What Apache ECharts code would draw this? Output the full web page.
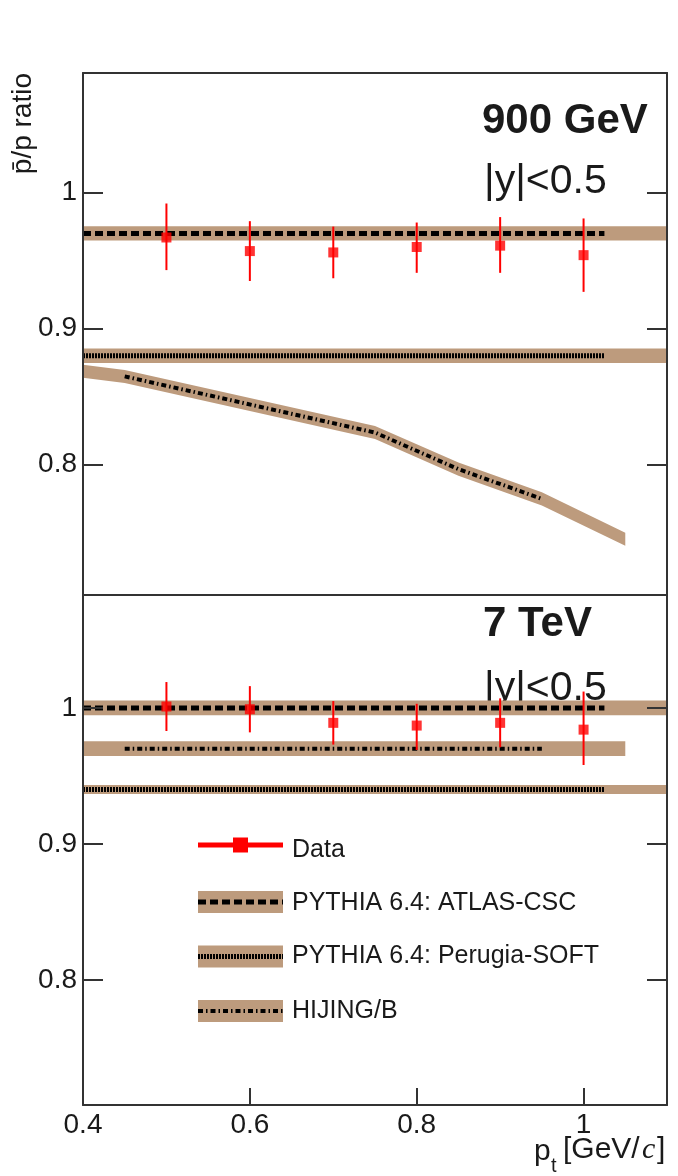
<!DOCTYPE html>
<html><head><meta charset="utf-8">
<script src="https://cdn.jsdelivr.net/npm/echarts@6/dist/echarts.min.js"></script>
<style>html,body{margin:0;padding:0;background:#fff}#c{width:678px;height:1176px}</style>
</head><body><div id="c"></div>
<script>
// ---------- data ----------
const xTicks = [0.4, 0.6, 0.8, 1.0];
const xTickLabels = ['0.4', '0.6', '0.8', '1'];
const yTicks = [0.8, 0.9, 1.0];
const yTickLabels = ['0.8', '0.9', '1'];

const ptX = [0.5, 0.6, 0.7, 0.8, 0.9, 1.0];
// 900 GeV data
const data900 = [0.967, 0.957, 0.956, 0.960, 0.961, 0.954];
const errLo900 = [0.943, 0.935, 0.937, 0.941, 0.941, 0.927];
const errHi900 = [0.992, 0.979, 0.975, 0.978, 0.982, 0.981];
// 7 TeV data
const data7 = [1.001, 0.999, 0.989, 0.987, 0.989, 0.984];
const errLo7 = [0.983, 0.982, 0.973, 0.969, 0.971, 0.958];
const errHi7 = [1.019, 1.016, 1.005, 1.003, 1.007, 1.012];

// models, 900 GeV
const atlas900BandX = [0.4, 1.1], atlas900BandY = [0.970, 0.970], atlas900Half = 0.0053;
const atlas900LineX = [0.4, 1.025], atlas900LineY = [0.970, 0.970];
const perugia900BandX = [0.4, 1.1], perugia900BandY = [0.880, 0.880], perugia900Half = 0.0053;
const perugia900LineX = [0.4, 1.025], perugia900LineY = [0.880, 0.880];
const hijing900BandX = [0.4, 0.45, 0.75, 0.85, 0.95, 1.05];
const hijing900BandY = [0.8686, 0.8648, 0.8235, 0.7966, 0.7747, 0.745], hijing900Half = 0.0048;
const hijing900LineX = [0.45, 0.75, 0.85, 0.95];
const hijing900LineY = [0.8648, 0.8235, 0.7966, 0.7747];

// models, 7 TeV
const atlas7BandX = [0.4, 1.1], atlas7BandY = [1.000, 1.000], atlas7Half = 0.0054;
const atlas7LineX = [0.4, 1.025], atlas7LineY = [1.000, 1.000];
const hijing7BandX = [0.4, 1.05], hijing7BandY = [0.970, 0.970], hijing7Half = 0.0054;
const hijing7LineX = [0.45, 0.95], hijing7LineY = [0.970, 0.970];
const perugia7BandX = [0.4, 1.1], perugia7BandY = [0.940, 0.940], perugia7Half = 0.0033;
const perugia7LineX = [0.4, 1.025], perugia7LineY = [0.940, 0.940];

const legendNames = ['Data', 'PYTHIA 6.4: ATLAS-CSC', 'PYTHIA 6.4: Perugia-SOFT', 'HIJING/B'];

// ---------- style ----------
const FONT = '"Liberation Sans", Arial, Helvetica, sans-serif';
const TAN = '#bd9b7d';
const INK = '#1a1a1a';
const FRAME = '#333333';
const RED = '#ff0000';
const DASH_ATLAS = [8, 4];
const DASH_PERUGIA = [2, 1];
const DASH_HIJING = [5, 3, 1.5, 3];

const chart = echarts.init(document.getElementById('c'), null, {renderer: 'canvas'});

function yAxes(g, min, max) {
  const common = {
    type: 'value', gridIndex: g, min, max, z: 10,
    axisLine: {show: true, onZero: false, lineStyle: {color: FRAME, width: 2}},
    axisTick: {show: true, inside: true, length: 20, customValues: yTicks, lineStyle: {color: FRAME, width: 2}},
    splitLine: {show: false}
  };
  return [
    Object.assign({}, common, {position: 'left',
      axisLabel: {show: true, customValues: yTicks, margin: 6, fontSize: 28, fontFamily: FONT, color: INK,
        formatter: v => { let k = 0; yTicks.forEach((t, i) => { if (Math.abs(t - v) < 1e-6) k = i; }); return yTickLabels[k]; }}}),
    Object.assign({}, common, {position: 'right', axisLabel: {show: false}})
  ];
}
function xAxes(g, showLabels) {
  const base = {type: 'value', gridIndex: g, min: 0.4, max: 1.1, z: 10, splitLine: {show: false},
    axisLine: {show: true, onZero: false, lineStyle: {color: FRAME, width: 2}}};
  return [
    Object.assign({}, base, {position: 'bottom',
      axisTick: {show: showLabels, inside: true, length: 17, customValues: xTicks, lineStyle: {color: FRAME, width: 2}},
      axisLabel: {show: showLabels, customValues: xTicks, margin: 6, fontSize: 28, fontFamily: FONT, color: INK,
        formatter: v => { let k = 0; xTicks.forEach((t, i) => { if (Math.abs(t - v) < 1e-6) k = i; }); return xTickLabels[k]; }}}),
    Object.assign({}, base, {position: 'top', axisTick: {show: false}, axisLabel: {show: false}})
  ];
}

function band(g, xs, ys, half) {
  return {type: 'custom', xAxisIndex: 2 * g, yAxisIndex: 2 * g, z: 1, silent: true,
    data: xs.map((x, i) => [x, ys[i] - half, ys[i] + half]),
    renderItem: (params, api) => {
      if (params.dataIndex !== 0) return null;
      const pts = [];
      for (let i = 0; i < xs.length; i++) pts.push(api.coord([xs[i], ys[i] + half]));
      for (let i = xs.length - 1; i >= 0; i--) pts.push(api.coord([xs[i], ys[i] - half]));
      return {type: 'polygon', shape: {points: pts}, style: {fill: TAN}};
    }};
}
function dline(g, xs, ys, dash, w) {
  return {type: 'line', xAxisIndex: 2 * g, yAxisIndex: 2 * g, z: 3, silent: true, symbol: 'none',
    data: xs.map((x, i) => [x, ys[i]]),
    lineStyle: {color: '#000', width: w, type: dash, cap: 'butt'}};
}
function errBars(g, ys, lo, hi) {
  return {type: 'custom', xAxisIndex: 2 * g, yAxisIndex: 2 * g, z: 4, silent: true,
    data: ptX.map((x, i) => [x, lo[i], hi[i]]),
    renderItem: (params, api) => {
      const x = api.value(0);
      const a = api.coord([x, api.value(1)]);
      const b = api.coord([x, api.value(2)]);
      return {type: 'line', shape: {x1: a[0], y1: a[1], x2: b[0], y2: b[1]}, style: {stroke: RED, lineWidth: 2}};
    }};
}
function points(g, ys) {
  return {type: 'scatter', xAxisIndex: 2 * g, yAxisIndex: 2 * g, z: 5, silent: true,
    symbol: 'rect', symbolSize: 10, itemStyle: {color: RED},
    data: ptX.map((x, i) => [x, ys[i]])};
}

// legend graphics
const legRows = [845, 902, 956.5, 1011];
const legDash = [null, DASH_ATLAS, DASH_PERUGIA, DASH_HIJING];
const legText = [850, 903, 956, 1011];
const graphics = [];
legRows.forEach((cy, i) => {
  if (i === 0) {
    graphics.push({type: 'line', shape: {x1: 198, y1: cy, x2: 283, y2: cy}, style: {stroke: RED, lineWidth: 5}});
    graphics.push({type: 'rect', shape: {x: 233, y: cy - 7.5, width: 15, height: 15}, style: {fill: RED}});
  } else {
    graphics.push({type: 'rect', shape: {x: 198, y: cy - 11, width: 85, height: 22}, style: {fill: TAN}});
    graphics.push({type: 'line', shape: {x1: 198, y1: cy, x2: 283, y2: cy},
      style: {stroke: '#000', lineWidth: i === 3 ? 4 : 5, lineDash: legDash[i]}});
  }
  graphics.push({type: 'text', x: 292, y: legText[i],
    style: {text: legendNames[i], fontSize: 25, fontFamily: FONT, fill: INK, align: 'left', verticalAlign: 'middle'}});
});
// panel labels
graphics.push({type: 'text', x: 482, y: 121, style: {text: '900 GeV', fontSize: 42, fontWeight: 'bold', fontFamily: FONT, fill: INK, verticalAlign: 'middle'}});
graphics.push({type: 'text', x: 484, y: 182, style: {text: '|y|<0.5', fontSize: 41, fontFamily: FONT, fill: INK, verticalAlign: 'middle'}});
graphics.push({type: 'text', x: 483, y: 624, style: {text: '7 TeV', fontSize: 42, fontWeight: 'bold', fontFamily: FONT, fill: INK, verticalAlign: 'middle'}});
graphics.push({type: 'text', x: 484, y: 689, style: {text: '|y|<0.5', fontSize: 41, fontFamily: FONT, fill: INK, verticalAlign: 'middle'}});
// axis titles
graphics.push({type: 'text', x: 23, y: 73, rotation: Math.PI / 2,
  style: {text: 'p\u0304/p ratio', fontSize: 28, fontFamily: FONT, fill: INK, align: 'right', verticalAlign: 'middle'}});
graphics.push({type: 'text', x: 534, y: 1152, style: {text: 'p', fontSize: 30, fontFamily: FONT, fill: INK, verticalAlign: 'middle'}});
graphics.push({type: 'text', x: 551, y: 1166, style: {text: 't', fontSize: 20, fontFamily: FONT, fill: INK, verticalAlign: 'middle'}});
graphics.push({type: 'text', x: 563, y: 1150, style: {text: '[GeV/', fontSize: 30, fontFamily: FONT, fill: INK, verticalAlign: 'middle'}});
graphics.push({type: 'text', x: 642, y: 1150, style: {text: 'c', fontSize: 30, fontStyle: 'italic', fontFamily: '"Liberation Serif", serif', fill: INK, verticalAlign: 'middle'}});
graphics.push({type: 'text', x: 657, y: 1150, style: {text: ']', fontSize: 30, fontFamily: FONT, fill: INK, verticalAlign: 'middle'}});

const option = {
  animation: false,
  backgroundColor: '#fff',
  grid: [
    {left: 83, top: 73, width: 584, height: 522, containLabel: false},
    {left: 83, top: 595, width: 584, height: 510, containLabel: false}
  ],
  xAxis: [].concat(xAxes(0, false), xAxes(1, true)),
  yAxis: [].concat(yAxes(0, 0.704, 1.088), yAxes(1, 0.708, 1.083)),
  series: [
    band(0, atlas900BandX, atlas900BandY, atlas900Half),
    band(0, perugia900BandX, perugia900BandY, perugia900Half),
    band(0, hijing900BandX, hijing900BandY, hijing900Half),
    dline(0, atlas900LineX, atlas900LineY, DASH_ATLAS, 5),
    dline(0, perugia900LineX, perugia900LineY, DASH_PERUGIA, 5),
    dline(0, hijing900LineX, hijing900LineY, DASH_HIJING, 4),
    errBars(0, data900, errLo900, errHi900),
    points(0, data900),
    band(1, atlas7BandX, atlas7BandY, atlas7Half),
    band(1, hijing7BandX, hijing7BandY, hijing7Half),
    band(1, perugia7BandX, perugia7BandY, perugia7Half),
    dline(1, atlas7LineX, atlas7LineY, DASH_ATLAS, 5),
    dline(1, hijing7LineX, hijing7LineY, DASH_HIJING, 4),
    dline(1, perugia7LineX, perugia7LineY, DASH_PERUGIA, 5),
    errBars(1, data7, errLo7, errHi7),
    points(1, data7)
  ],
  graphic: graphics
};
chart.setOption(option);
</script></body></html>
